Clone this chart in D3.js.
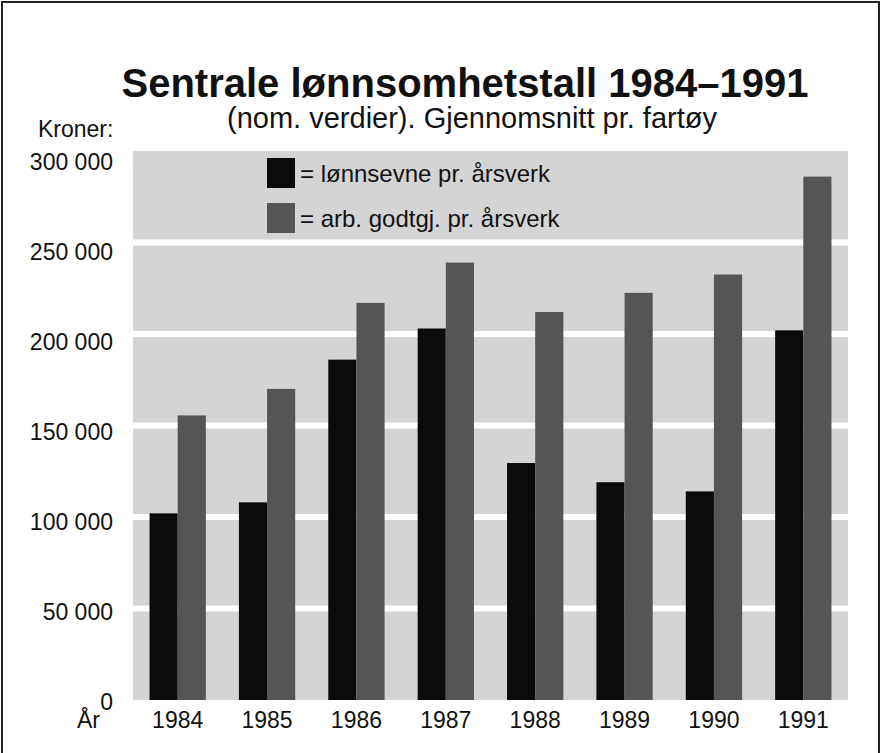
<!DOCTYPE html>
<html>
<head>
<meta charset="utf-8">
<script src="https://cdn.jsdelivr.net/npm/d3@7"></script>
<style>
  body { margin: 0; background: #fff; }
  svg { display: block; font-family: "Liberation Sans", Arial, Helvetica, sans-serif; }
</style>
</head>
<body>
<svg id="chart"></svg>
<script>
var years = ["1984", "1985", "1986", "1987", "1988", "1989", "1990", "1991"];
var lonnsevne = [102000, 108000, 186000, 203000, 129500, 119000, 114000, 202000];
var arbGodtgj = [155500, 170000, 217000, 239000, 212000, 222500, 232500, 286000];
var seriesKeys = ["lonnsevne", "arbGodtgj"];
var seriesNames = ["= lønnsevne pr. årsverk", "= arb. godtgj. pr. årsverk"];
var yTicks = [0, 50000, 100000, 150000, 200000, 250000, 300000];

var data = years.map(function (y, i) {
  return { year: y, lonnsevne: lonnsevne[i], arbGodtgj: arbGodtgj[i] };
});

var svg = d3.select("#chart").attr("width", 882).attr("height", 753);

// frame round the whole figure
svg.append("rect")
  .attr("x", 2).attr("y", 2)
  .attr("width", 877).attr("height", 800)
  .attr("fill", "none")
  .attr("stroke", "#222")
  .attr("stroke-width", 2);

var x0 = d3.scaleBand().domain(years).range([133, 848]).paddingInner(0.37).paddingOuter(0.185);
var x1 = d3.scaleBand().domain(seriesKeys).range([0, x0.bandwidth()]);
var y = d3.scaleLinear().domain([0, 300000]).range([700, 151]);
// labels sit a little below their gridlines near the top
var yLabel = d3.scaleLinear().domain([0, 300000]).range([702, 162]);
var color = d3.scaleOrdinal().domain(seriesKeys).range(["#0b0b0b", "#555555"]);

// plot background
svg.append("rect")
  .attr("x", 133).attr("y", y(300000))
  .attr("width", 848 - 133).attr("height", y(0) - y(300000))
  .attr("fill", "#d4d4d4");

svg.selectAll(".grid")
  .data(yTicks.filter((d) => d > 0 && d < 300000))
  .enter().append("line")
  .attr("class", "grid")
  .attr("x1", 133).attr("x2", 848)
  .attr("y1", (d) => y(d)).attr("y2", (d) => y(d))
  .attr("stroke", "#fff")
  .attr("stroke-width", 6);

var groups = svg.selectAll(".year")
  .data(data)
  .enter().append("g")
  .attr("class", "year")
  .attr("transform", (d) => "translate(" + x0(d.year) + ",0)");

groups.selectAll("rect")
  .data((d) => seriesKeys.map((k) => ({ key: k, value: d[k] })))
  .enter().append("rect")
  .attr("x", (d) => x1(d.key))
  .attr("y", (d) => y(d.value))
  .attr("width", x1.bandwidth())
  .attr("height", (d) => y(0) - y(d.value))
  .attr("fill", (d) => color(d.key));

// y tick labels
svg.selectAll(".ytick")
  .data(yTicks)
  .enter().append("text")
  .attr("class", "ytick")
  .attr("x", 113)
  .attr("y", (d) => yLabel(d))
  .attr("dy", "0.36em")
  .attr("text-anchor", "end")
  .style("font-size", "23px")
  .attr("fill", "#111")
  .text((d) => d3.format(",")(d).replace(/,/g, " "));

// year labels
svg.selectAll(".xtick")
  .data(years)
  .enter().append("text")
  .attr("class", "xtick")
  .attr("x", (d) => x0(d) + x0.bandwidth() / 2)
  .attr("y", 720)
  .attr("dy", "0.36em")
  .attr("text-anchor", "middle")
  .style("font-size", "23px")
  .attr("fill", "#111")
  .text((d) => d);

svg.append("text")
  .attr("x", 100).attr("y", 720).attr("dy", "0.36em")
  .attr("text-anchor", "end")
  .style("font-size", "23px")
  .attr("fill", "#111")
  .text("År");

svg.append("text")
  .attr("x", 38).attr("y", 129).attr("dy", "0.36em")
  .style("font-size", "23px")
  .attr("fill", "#111")
  .text("Kroner:");

svg.append("text")
  .attr("x", 465).attr("y", 97)
  .attr("text-anchor", "middle")
  .style("font-size", "40px")
  .style("font-weight", "bold")
  .attr("fill", "#111")
  .text("Sentrale lønnsomhetstall 1984–1991");

svg.append("text")
  .attr("x", 472).attr("y", 118).attr("dy", "0.36em")
  .attr("text-anchor", "middle")
  .style("font-size", "29px")
  .attr("fill", "#111")
  .text("(nom. verdier). Gjennomsnitt pr. fartøy");

// legend
var legend = svg.selectAll(".legend")
  .data(seriesKeys)
  .enter().append("g")
  .attr("class", "legend")
  .attr("transform", (d, i) => "translate(267," + (158 + i * 45) + ")");

legend.append("rect")
  .attr("width", 28).attr("height", 30)
  .attr("fill", (d) => color(d));

legend.append("text")
  .attr("x", 33).attr("y", 15).attr("dy", "0.36em")
  .style("font-size", "24px")
  .attr("fill", "#111")
  .text((d, i) => seriesNames[i]);
</script>
</body>
</html>
